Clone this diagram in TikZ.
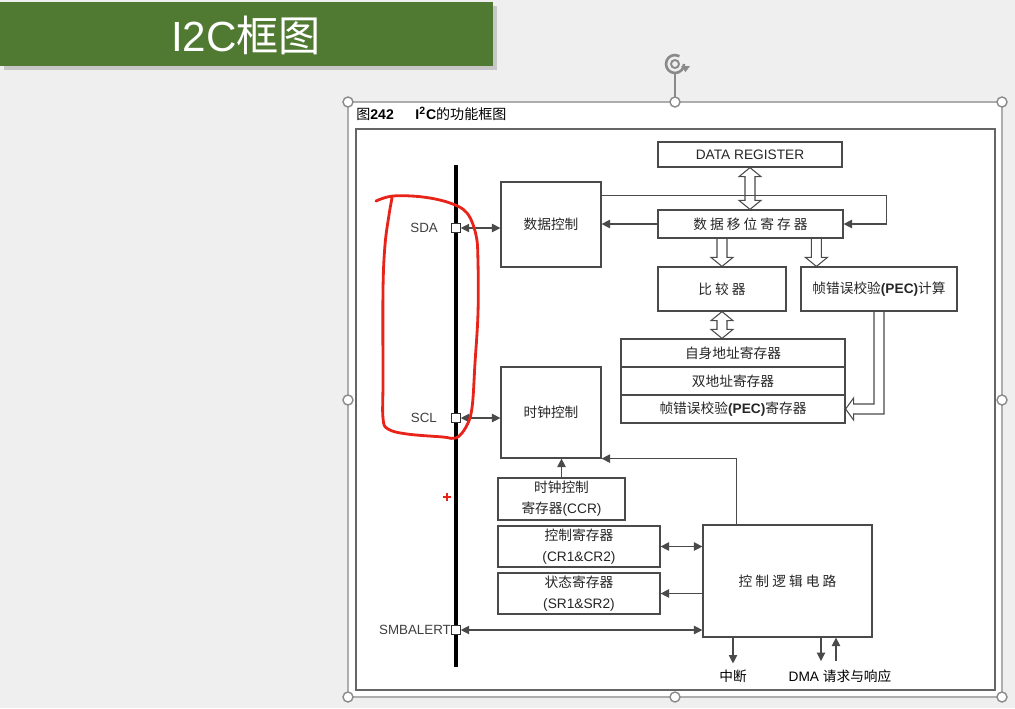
\documentclass[tikz,border=0pt]{standalone}
\usepackage{fontspec}
\setmainfont{Liberation Sans}
\newfontfamily\cjk{Noto Sans CJK SC}
\usetikzlibrary{arrows.meta,calc,positioning}
\definecolor{slidebg}{HTML}{EFEFEF}
\definecolor{banner}{HTML}{507A32}
\definecolor{boxline}{HTML}{4A4A4A}
\definecolor{handle}{HTML}{8A8A8A}
\definecolor{penred}{HTML}{E8231A}

\tikzset{
  blk/.style={draw=boxline,line width=0.7pt,fill=white,inner sep=1pt,align=center,
    font=\fontsize{7.8}{12}\selectfont,text=black!85},
  pinbox/.style={draw=black!80,line width=0.6pt,fill=white,minimum size=0.17cm,inner sep=0pt},
  pinlbl/.style={font=\fontsize{7.6}{9}\selectfont,text=black!75,inner sep=1pt},
  arr/.style={draw=boxline,line width=0.6pt,-{Triangle[length=4.8pt,width=4.8pt]}},
  biarr/.style={draw=boxline,line width=0.6pt,{Triangle[length=4.8pt,width=4.8pt]}-{Triangle[length=4.8pt,width=4.8pt]}},
  fatarr/.style={draw=boxline,line width=0.6pt,line join=miter},
  hdl/.style={draw=handle,line width=0.8pt,fill=white},
}

% hollow arrows: top point, bottom point
\newcommand{\fatdown}[2]{%
  \draw[fatarr] ($(#1)+(-5,0)$) -- ($(#2)+(-5,-9)$) -- ($(#2)+(-11,-9)$) -- (#2)
    -- ($(#2)+(11,-9)$) -- ($(#2)+(5,-9)$) -- ($(#1)+(5,0)$);}
\newcommand{\fatboth}[2]{%
  \draw[fatarr] (#1) -- ($(#1)+(11,9)$) -- ($(#1)+(5,9)$) -- ($(#2)+(5,-9)$)
    -- ($(#2)+(11,-9)$) -- (#2) -- ($(#2)+(-11,-9)$) -- ($(#2)+(-5,-9)$)
    -- ($(#1)+(-5,9)$) -- ($(#1)+(-11,9)$) -- cycle;}

\begin{document}
\begin{tikzpicture}[x=0.02cm,y=-0.02cm]
% slide
\fill[slidebg] (0,0) rectangle (1015,708);
\useasboundingbox (0,0) rectangle (1015,708);
\fill[black!22] (4,6) rectangle (497,70);
\fill[banner] (0,2) rectangle (493,66);
\node[text=white,font=\fontsize{24}{28}\selectfont] (head) at (246,35) {I2C{\cjk 框图}};

% picture frame with handles
\draw[draw=handle!70,line width=0.6pt,fill=white] (348,102) rectangle (1002,697);
\draw[draw=black!60,line width=0.9pt] (356,129) rectangle (995,690);
\draw[draw=handle,line width=0.8pt] (675,73) -- (675,97);
\foreach \hx/\hy in {348/102,675/102,1002/102,348/400,1002/400,348/697,675/697,1002/697}
  \draw[hdl] (\hx,\hy) circle[radius=5];
\draw[draw=handle,line width=1.5pt] (684,64) arc[start angle=0,end angle=300,radius=9];
\draw[draw=handle,line width=1.1pt] (675,64) circle[radius=4];
\fill[handle] (681,66) -- (690,66) -- (685.5,72) -- cycle;

\node[anchor=west,inner sep=0pt,font=\fontsize{8}{10}\selectfont] (fignum) at (356,114) {{\cjk 图}\textbf{242}};
\node[anchor=west,inner sep=0pt,font=\fontsize{8}{10}\selectfont] (figname) at (415,114) {\textbf{I\textsuperscript{2}C}{\cjk 的功能框图}};

% bus and pins
\coordinate (bustop) at (456,165);
\coordinate (busbot) at (456,667);
\draw[line width=2pt] (bustop) -- (busbot);
\node[pinbox] (sda) at (456,228) {};
\node[pinbox] (scl) at (456,418) {};
\node[pinbox] (smb) at (456,630) {};
\node[pinlbl,anchor=east] (sdalbl) at (440,228) {SDA};
\node[pinlbl,anchor=east] (scllbl) at (439,418) {SCL};
\node[pinlbl,anchor=east,inner sep=0pt] (smblbl) at (smb.west) {SMBALERT};

% blocks
\node[blk,minimum width=2cm,minimum height=1.7cm] (datactl) at (551,224.5) {{\cjk 数据控制}};
\node[blk,minimum width=2cm,minimum height=1.82cm] (clkctl) at (551,412.5) {{\cjk 时钟控制}};
\node[blk,minimum width=3.68cm,minimum height=0.5cm] (dreg) at (750,154.5) {DATA REGISTER};
\node[blk,minimum width=3.7cm,minimum height=0.56cm] (shreg) at (750.5,224) {{\cjk 数~据~移~位~寄~存~器}};
\node[blk,minimum width=2.56cm,minimum height=0.88cm] (cmp) at (722,289) {{\cjk 比~较~器}};
\node[blk,minimum width=3.12cm,minimum height=0.88cm] (pecc) at (879,289) {{\cjk 帧错误校验}\textbf{(PEC)}{\cjk 计算}};
\node[blk,minimum width=4.48cm,minimum height=0.56cm] (oar) at (733,353) {{\cjk 自身地址寄存器}};
\node[blk,minimum width=4.48cm,minimum height=0.56cm] (dar) at (733,381) {{\cjk 双地址寄存器}};
\node[blk,minimum width=4.48cm,minimum height=0.56cm] (pecr) at (733,409) {{\cjk 帧错误校验}\textbf{(PEC)}{\cjk 寄存器}};
\node[blk,minimum width=2.54cm,minimum height=0.84cm] (ccr) at (561.5,499) {{\cjk 时钟控制}\\{\cjk 寄存器}(CCR)};
\node[blk,minimum width=3.24cm,minimum height=0.82cm] (cr) at (579,546.5) {{\cjk 控制寄存器}\\(CR1\&CR2)};
\node[blk,minimum width=3.24cm,minimum height=0.82cm] (sr) at (579,593.5) {{\cjk 状态寄存器}\\(SR1\&SR2)};
\node[blk,minimum width=3.38cm,minimum height=2.24cm] (logic) at (787.5,581) {{\cjk 控~制~逻~辑~电~路}};
\node[font=\fontsize{7.8}{10}\selectfont] (intlbl) at (733,676) {{\cjk 中断}};
\node[font=\fontsize{7.8}{10}\selectfont] (dmalbl) at (840,676) {DMA {\cjk 请求与响应}};

% connectors
\draw[biarr] (sda.east) -- (sda.east -| datactl.west);
\draw[biarr] (scl.east) -- (scl.east -| clkctl.west);
\draw[biarr] (smb.east) -- (smb.east -| logic.west);
\draw[arr] (shreg.west) -- (shreg.west -| datactl.east);
\draw[arr] ($(datactl.north east)+(0,14)$) -| ($(shreg.east)+(43,0)$) -- (shreg.east);
\draw[arr] ($(logic.north west)+(34,0)$) |- (clkctl.south east);
\draw[arr] (ccr.north) -- (ccr.north |- clkctl.south);
\draw[biarr] (cr.east) -- (cr.east -| logic.west);
\draw[arr] (sr.east -| logic.west) -- (sr.east);
\draw[arr] (intlbl.north |- logic.south) -- (intlbl.north);
\coordinate (dmadn) at (821,661);
\coordinate (dmaup) at (836,661);
\draw[arr] (dmadn |- logic.south) -- (dmadn);
\draw[arr] (dmaup) -- (dmaup |- logic.south);

% hollow arrows
\fatboth{dreg.south}{dreg.south |- shreg.north}
\fatdown{shreg.south -| cmp.north}{cmp.north}
\coordinate (pecin) at ($(pecc.north west)+(16,0)$);
\fatdown{pecin |- shreg.south}{pecin}
\fatboth{cmp.south}{cmp.south |- oar.north}
\draw[fatarr] ($(pecc.south)+(-5,0)$) -- ($(pecc.south |- pecr.east)+(-5,-5)$)
  -- ($(pecr.east)+(8,-5)$) -- ($(pecr.east)+(8,-11)$) -- (pecr.east)
  -- ($(pecr.east)+(8,11)$) -- ($(pecr.east)+(8,5)$)
  -- ($(pecc.south |- pecr.east)+(5,5)$) -- ($(pecc.south)+(5,0)$);

% red pen marks
\draw[penred,line width=1.6pt,line cap=round,line join=round] plot[smooth,tension=0.6] coordinates {
  (376,201) (393,196) (423,197) (450,203) (467,213) (476,235) (478,262) (478,313)
  (475,363) (472,408) (466,427) (456,438) (443,437) (407,434) (388,429) (383,418)
  (383,380) (383,290) (385,245) (389,215) (392,198)};
\draw[penred,line width=0.8pt] (443,497) -- (451,497) (447,493) -- (447,501);
\end{tikzpicture}
\end{document}
